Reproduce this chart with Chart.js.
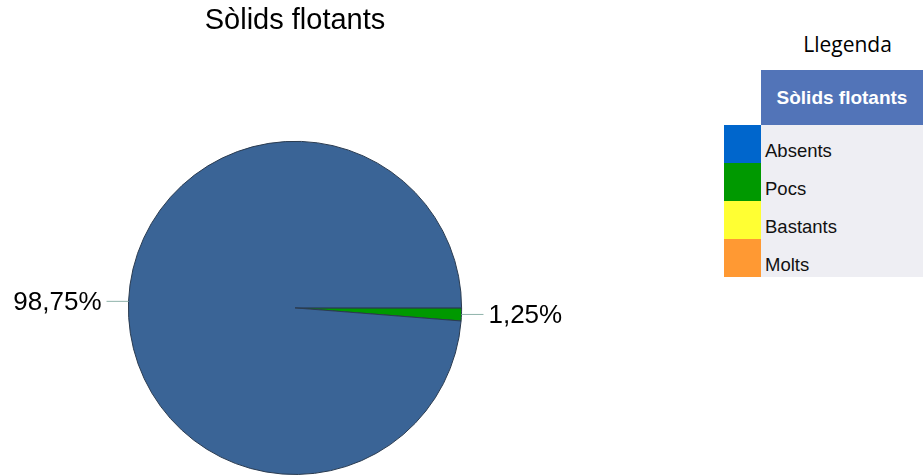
<!DOCTYPE html>
<html>
<head>
<meta charset="utf-8">
<script src="https://cdn.jsdelivr.net/npm/chart.js@4"></script>
<style>
  html, body { margin: 0; padding: 0; background: #fff; }
  #wrap { position: relative; width: 923px; height: 475px; overflow: hidden; }
  #chartBox { position: absolute; left: 0; top: 0; width: 590px; height: 475px; }
  #legTitle { position: absolute; left: 766px; top: 30px; width: 163px; text-align: center;
              font-family: "Open Sans", sans-serif; font-size: 21px; color: #000; }
  #legTable { position: absolute; left: 724px; top: 70px; border-collapse: collapse;
              font-family: "Liberation Sans", Arial, sans-serif; }
  #legTable td { padding: 0; }
  #legTable .head { background: #5274b8; color: #fff; font-weight: bold; font-size: 19px;
                    height: 55px; text-align: center; width: 162px; }
  #legTable .sw { width: 37px; height: 38px; }
  #legTable .txt { background: #eeeef3; font-size: 18.5px; color: #111; padding: 14px 0 0 4px;
                   height: 24px; line-height: 24px; vertical-align: top; }
</style>
</head>
<body>
<div id="wrap">
  <div id="chartBox"><canvas id="pieChart"></canvas></div>
  <div id="legTitle"></div>
  <table id="legTable"></table>
</div>
<script>
// Dati del grafico
const titleText = 'Sòlids flotants';
const categories = ['Pocs', 'Absents'];
const values = [1.25, 98.75];
const sliceColors = ['#009900', '#3a6496'];

// Dati della legenda
const legendTitle = 'Llegenda';
const legendHeader = 'Sòlids flotants';
const legendItems = ['Absents', 'Pocs', 'Bastants', 'Molts'];
const legendColors = ['#0066cc', '#009900', '#ffff33', '#ff9933'];

// Legenda come tabella html
document.getElementById('legTitle').textContent = legendTitle;
const table = document.getElementById('legTable');
let html = '<tr><td></td><td class="head">' + legendHeader + '</td></tr>';
legendItems.forEach((item, i) => {
    html += '<tr><td class="sw" style="background:' + legendColors[i] + '"></td>' +
            '<td class="txt">' + item + '</td></tr>';
});
table.innerHTML = html;

// Etichette esterne con linea di richiamo
const outLabels = {
    id: 'outLabels',
    afterDatasetsDraw(chart) {
        const ctx = chart.ctx;
        const meta = chart.getDatasetMeta(0);
        meta.data.forEach((arc, i) => {
            const p = arc.getProps(['x', 'y', 'startAngle', 'endAngle', 'outerRadius'], true);
            const mid = (p.startAngle + p.endAngle) / 2;
            const px = p.x + Math.cos(mid) * p.outerRadius;
            const py = p.y + Math.sin(mid) * p.outerRadius;
            const dir = Math.cos(mid) >= 0 ? 1 : -1;
            ctx.save();
            ctx.strokeStyle = '#8fb3aa';
            ctx.lineWidth = 1;
            ctx.beginPath();
            ctx.moveTo(px, py);
            ctx.lineTo(px + dir * 22, py);
            ctx.stroke();
            ctx.fillStyle = '#000';
            ctx.font = '26px "Liberation Sans", Arial, sans-serif';
            ctx.textAlign = dir > 0 ? 'left' : 'right';
            ctx.textBaseline = 'middle';
            const txt = values[i].toFixed(2).replace('.', ',') + '%';
            ctx.fillText(txt, px + dir * 27, py + 1);
            ctx.restore();
        });
    }
};

const ctx = document.getElementById('pieChart').getContext('2d');
const pieChart = new Chart(ctx, {
    type: 'pie',
    data: {
        labels: categories,
        datasets: [{
            data: values,
            backgroundColor: sliceColors,
            borderColor: '#2a3b50',
            borderWidth: 1,
            hoverOffset: 0
        }]
    },
    options: {
        responsive: true,
        maintainAspectRatio: false,
        animation: false,
        rotation: 90,
        layout: { padding: 0 },
        plugins: {
            legend: { display: false },
            tooltip: { enabled: false },
            title: {
                display: true,
                text: titleText,
                color: '#000',
                font: { family: '"Liberation Sans", Arial, sans-serif', size: 29, weight: 'normal' },
                padding: { top: 4, bottom: 102 }
            }
        }
    },
    plugins: [outLabels]
});
</script>
</body>
</html>
